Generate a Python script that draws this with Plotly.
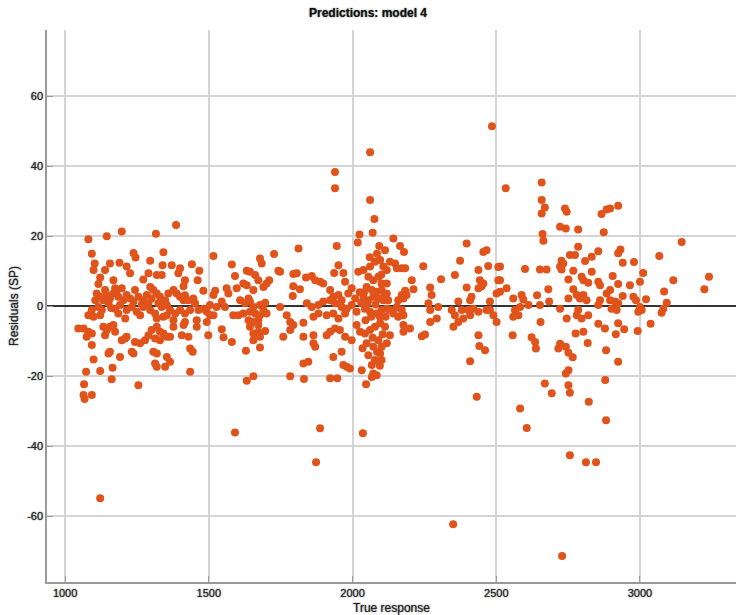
import plotly.graph_objects as go

# Residuals of model 4 against the true response, grouped by response band
band_1000 = [
    (1081, 19.1), (1145, 20.0), (1197, 21.3), (1316, 20.7), (1093, 15.0), (1238, 15.2), (1245, 13.9),
    (1342, 15.4), (1296, 13.0), (1103, 12.2), (1099, 10.3), (1156, 12.2), (1189, 12.4), (1214, 11.3),
    (1226, 9.4), (1139, 10.3), (1122, 8.2), (1168, 7.4), (1290, 9.4), (1272, 7.6), (1319, 8.9),
    (1336, 8.9), (1339, 11.7), (1116, 6.3), (1174, 5.1), (1197, 5.1), (1296, 5.5),
    (1110, 3.6), (1122, 2.7), (1133, 1.7), (1145, 3.2), (1156, 2.2), (1168, 3.6), (1185, 2.7),
    (1203, 1.7), (1214, 3.2), (1226, 2.2), (1238, 1.3), (1255, 2.7), (1272, 1.7), (1284, 3.2),
    (1301, 2.2), (1319, 3.6), (1330, 2.7), (1348, 1.7), (1359, 3.6),
    (1105, 1.7), (1116, -0.2), (1128, -1.1), (1151, 0.8), (1174, -0.7), (1191, 0.3), (1214, -1.1),
    (1232, -0.2), (1249, -1.6), (1272, -0.2), (1296, -1.1), (1313, -2.1), (1336, -0.2),
    (1093, -1.1), (1081, -2.6), (1099, -3.0), (1122, -2.6), (1185, -2.1), (1209, -3.5), (1261, -2.6),
    (1319, -3.5), (1342, -3.0), (1354, -2.6),
    (1139, 4.6), (1180, 4.6), (1243, 4.6), (1307, 4.6), (1325, 0.8), (1354, 0.3), (1160, -0.5),
    (1267, 0.5), (1290, 0.8),
    (1046, -6.4), (1064, -6.4), (1081, -7.3), (1093, -7.8), (1075, -8.7),
    (1133, -5.9), (1145, -6.8), (1156, -5.9), (1168, -5.4), (1174, -7.3), (1139, -8.3), (1093, -11.1),
    (1197, -9.7), (1209, -9.2), (1214, -8.7), (1243, -10.2), (1261, -10.6), (1278, -9.7), (1290, -8.3),
    (1301, -6.8), (1319, -5.9), (1330, -7.3), (1342, -7.8), (1354, -8.7), (1313, -9.2), (1330, -9.7),
    (1156, -13.0), (1151, -13.5), (1191, -14.5), (1232, -13.0), (1238, -13.5), (1307, -13.0),
    (1319, -13.5), (1099, -15.2), (1073, -18.7), (1122, -18.5), (1165, -17.6), (1162, -20.9),
    (1066, -22.3), (1255, -22.6), (1064, -25.4), (1093, -25.4), (1313, -16.4), (1319, -17.3),
    (1348, -17.3), (1354, -14.5), (1068, -26.5), (1122, -54.9),
]

band_1400 = [
    (1386, 23.2), (1516, 14.3), (1371, 11.7), (1400, 10.8), (1394, 9.4), (1441, 12.0), (1467, 10.1),
    (1461, 7.4), (1417, 7.4), (1412, 5.7), (1580, 11.9), (1591, 8.6), (1678, 13.6), (1684, 12.2),
    (1727, 14.9), (1742, 10.1), (1632, 10.1), (1643, 9.8), (1661, 8.9), (1672, 7.4), (1620, 6.5),
    (1632, 6.0), (1710, 7.4), (1701, 6.5), (1690, 5.5), (1655, 4.6), (1597, 5.1), (1562, 5.1),
    (1568, 3.6), (1522, 4.4), (1516, 3.2), (1481, 4.4),
    (1377, 4.6), (1388, 3.6), (1400, 2.7), (1417, 3.1), (1412, 1.7), (1429, 1.7), (1446, 2.2),
    (1452, 0.8), (1545, 1.3), (1556, -0.2), (1527, -0.2), (1504, 0.3), (1609, 1.7), (1626, 0.8),
    (1643, 1.3), (1638, 2.2), (1655, -0.2), (1678, 0.3), (1696, 1.0),
    (1365, -1.1), (1383, -2.1), (1400, -1.1), (1417, -2.1), (1435, -1.1), (1464, -1.1), (1481, -0.7),
    (1493, -1.6), (1504, -2.6), (1516, -2.6), (1585, -2.6), (1603, -2.6), (1620, -2.1), (1643, -1.6),
    (1661, -2.1), (1678, -2.6), (1690, -1.1), (1701, -2.1),
    (1377, -4.0), (1417, -4.5), (1458, -4.0), (1493, -4.5), (1638, -4.0), (1655, -4.5), (1672, -4.0),
    (1377, -5.9), (1412, -5.4), (1458, -5.9), (1643, -5.9), (1672, -5.4), (1545, -6.6), (1696, -7.1),
    (1365, -8.7), (1406, -8.3), (1429, -8.7), (1498, -8.3), (1551, -8.9), (1655, -7.8), (1672, -7.3),
    (1678, -8.7), (1580, -10.2), (1655, -9.7), (1678, -11.8), (1629, -12.7), (1435, -12.1),
    (1444, -13.0), (1365, -15.9), (1435, -18.7), (1632, -21.3), (1655, -20.0), (1591, -36.1),
]

band_1750 = [
    (1939, 38.3), (1939, 33.7), (2061, 44.0), (2061, 30.3), (2076, 24.9), (2070, 21.0), (2024, 20.5),
    (2018, 18.2), (2093, 17.2), (2113, 16.0), (1945, 17.2), (1812, 16.5), (1748, 9.8), (1794, 9.2),
    (1806, 9.4), (1794, 5.7), (1817, 4.8), (1792, 2.9), (1838, 8.2), (1858, 8.6), (1870, 7.4),
    (1887, 7.0), (1898, 6.5), (1922, 4.6), (1933, 2.7), (1951, 3.2), (1962, 1.7), (1951, 11.7),
    (1936, 9.5), (1968, 9.5), (1974, 7.0), (1997, 5.1), (1985, 3.6), (2009, 2.2),
    (2020, 9.8), (2038, 10.3), (2061, 11.3), (2078, 12.7), (2096, 13.2), (2107, 11.3), (2119, 10.3),
    (2055, 8.4), (2072, 7.4), (2090, 8.4), (2101, 6.5), (2119, 6.5), (2049, 5.5), (2067, 4.6),
    (2084, 4.1), (2101, 4.6), (2119, 3.6), (2038, 2.7), (2055, 1.7), (2072, 2.7), (2090, 2.2),
    (2107, 1.7), (2124, 1.7),
    (1841, 0.8), (1858, -0.2), (1881, 0.3), (1898, 1.3), (1922, 1.7), (1939, 0.8), (1962, -0.2),
    (1980, -0.7), (1997, 0.3),
    (1748, -0.2), (1771, -2.6), (1783, -4.5), (1794, -5.4), (1829, -4.7), (1864, -3.0), (1881, -2.1),
    (1910, -2.6), (1933, -2.1), (1951, -3.5), (1974, -2.1), (2014, -1.6), (2043, -0.7), (2061, -1.6),
    (2084, -2.1), (2101, -1.1), (2119, -0.7),
    (1759, -8.7), (1783, -6.8), (1829, -8.7), (1864, -8.3), (1864, -10.6), (1870, -11.6), (1910, -8.3),
    (1922, -7.3), (1939, -6.4), (1956, -6.8), (1974, -8.7), (1997, -9.7), (2014, -5.4), (2026, -7.3),
    (2043, -7.8), (2061, -6.8), (2078, -5.9), (2096, -4.9), (2113, -5.9), (2049, -10.6), (2072, -11.6),
    (2090, -9.7), (2101, -11.6), (2119, -10.6),
    (1933, -14.5), (1962, -13.0), (1968, -16.8), (1980, -17.3), (1991, -17.8), (2032, -18.3),
    (2067, -16.8), (2078, -15.4), (2072, -19.2), (2084, -19.7), (2096, -13.5), (2101, -15.4),
    (1829, -16.4), (1846, -15.9), (1783, -20.0), (1831, -20.8), (1922, -20.6), (1947, -20.6),
    (2047, -22.3), (2067, -20.2), (1887, -34.9), (1873, -44.6), (2036, -36.3),
    (2040, 4.0), (2050, 0.5), (2065, -3.0), (2080, 0.5), (2095, -3.0), (2110, 3.0), (2045, -4.0),
    (2070, -9.0), (2085, -13.0), (2105, -8.0), (2030, 1.0), (2025, 4.0), (2060, 14.0), (2085, 15.0),
    (2100, 9.0), (2115, -3.0), (2035, -12.0), (2055, -14.0), (2095, -17.0),
]

band_2130 = [
    (2142, 19.3), (2165, 17.2), (2179, 15.5), (2130, 12.7), (2148, 12.2), (2154, 10.8), (2171, 10.8),
    (2183, 10.8), (2246, 11.4), (2206, 7.4), (2212, 4.8), (2183, 4.4), (2171, 3.2), (2159, 1.7),
    (2177, 2.2), (2188, 3.2), (2154, -0.2), (2171, -1.1), (2142, -2.1), (2159, -3.0), (2177, -2.6),
    (2130, -1.1), (2177, -5.4), (2177, -7.3), (2200, -6.4), (2130, -8.3), (2241, -8.6), (2252, -8.1),
    (2270, 5.3), (2275, 3.2), (2264, 0.8), (2270, -1.1), (2270, -4.5), (2298, -0.2), (2293, -3.5),
    (2308, 7.7), (2397, 17.9), (2374, 13.0), (2356, 8.9), (2397, 5.3), (2414, 2.7), (2409, 1.7),
    (2368, 1.3), (2345, -1.1), (2356, -2.6), (2351, -5.9), (2368, -4.5), (2385, -3.5), (2380, -1.1),
    (2403, -1.1), (2420, -0.7), (2438, -1.6), (2409, -2.6), (2455, 15.5), (2466, 16.0), (2472, 11.5),
    (2438, 10.3), (2443, 7.4), (2455, 6.5), (2438, 5.1), (2449, 5.7), (2478, 1.3), (2478, -1.1),
    (2490, -2.6), (2501, -4.5), (2466, -1.1), (2507, 11.2), (2507, 7.4), (2501, 3.6), (2438, -8.3),
    (2441, -11.4), (2461, -12.6), (2409, -15.7), (2432, -25.9), (2485, 51.4), (2350, -62.3),
]

band_2510 = [
    (2533, 33.7), (2658, 35.3), (2658, 30.3), (2669, 28.2), (2658, 26.5), (2739, 27.9), (2745, 27.0),
    (2785, 21.9), (2722, 22.7), (2742, 22.2), (2866, 26.3), (2884, 27.6), (2874, 21.1), (2661, 20.6),
    (2664, 18.7), (2785, 17.0), (2513, 11.3), (2600, 10.6), (2652, 10.5), (2675, 10.5), (2727, 13.0),
    (2722, 11.3), (2733, 12.2), (2727, 10.5), (2756, 14.6), (2774, 14.6), (2809, 12.9), (2832, 14.1),
    (2855, 15.7), (2768, 10.1), (2751, 7.6), (2832, 9.8), (2797, 8.4), (2803, 7.4), (2820, 6.7),
    (2855, 7.0), (2861, 6.0), (2681, 4.8), (2642, 3.1), (2768, 4.8), (2780, 3.2), (2803, 3.2),
    (2814, 1.7), (2751, 2.2), (2791, 2.2), (2861, 1.7), (2884, 3.6), (2513, 7.4), (2513, 4.1),
    (2536, 5.1), (2559, 2.2), (2588, 3.2), (2594, 1.9), (2612, 0.3), (2583, -0.2), (2565, -1.1),
    (2577, -2.6), (2559, -3.0), (2652, 0.3), (2684, 1.3), (2722, -0.7), (2785, -1.1), (2780, -2.6),
    (2797, -3.5), (2820, -2.6), (2745, -3.5), (2855, 0.3), (2855, -5.0), (2878, -6.4), (2654, -4.5),
    (2557, -8.3), (2623, -8.9), (2635, -10.2), (2638, -12.1), (2776, -7.8), (2803, -7.3),
    (2818, -10.5), (2722, -10.7), (2716, -12.1), (2742, -11.6), (2751, -13.3), (2766, -14.6),
    (2882, -12.6), (2751, -18.3), (2742, -19.2), (2879, -21.1), (2669, -22.1), (2693, -24.9),
    (2751, -22.6), (2756, -24.7), (2583, -29.2), (2606, -34.8), (2822, -27.3), (2882, -32.6),
    (2756, -42.6), (2812, -44.6), (2847, -44.6), (2729, -71.4),
]

band_2900 = [
    (2924, 28.7), (2896, 27.9), (3145, 18.3), (2932, 16.2), (2924, 15.1), (3067, 14.3), (2940, 12.4),
    (2979, 12.6), (3011, 9.5), (2905, 8.6), (3116, 7.4), (3000, 7.0), (2924, 6.3), (2965, 6.0),
    (3240, 8.4), (3224, 4.8), (3084, 4.2), (2896, 4.6), (2940, 2.9), (2977, 2.7), (2986, 1.7),
    (3021, 2.0), (2896, 1.7), (2913, 1.3), (2924, 0.8), (2901, -0.7), (2919, -1.1), (3000, -0.2),
    (3006, -1.1), (2994, -1.6), (3093, 1.0), (3081, -0.7), (3075, -1.9), (3037, -5.0), (2924, -4.9),
    (2945, -6.6), (2916, -8.0), (2992, -7.1), (2924, -15.9),
]

x_ticks = [1000, 1500, 2000, 2500, 3000]
y_ticks = [-60, -40, -20, 0, 20, 40, 60]

points = band_1000 + band_1400 + band_1750 + band_2130 + band_2510 + band_2900
true_response = [p[0] for p in points]
residual_sp = [p[1] for p in points]

# soft grey outline around every piece of text
halo = "0px 0px 1px #777, 0px 0px 2px #999"
family = "Liberation Sans, Arial, sans-serif"

fig = go.Figure(
    go.Scatter(
        x=true_response,
        y=residual_sp,
        mode="markers",
        marker=dict(color="#e0531b", size=8, line=dict(width=0)),
        hoverinfo="x+y",
    )
)

fig.update_layout(
    width=736,
    height=615,
    margin=dict(l=47, r=0, t=30, b=33),
    paper_bgcolor="white",
    plot_bgcolor="white",
    showlegend=False,
    font=dict(family=family, size=11, color="#222", shadow=halo),
    title=dict(
        text="<b>Predictions: model 4</b>",
        x=0.5,
        xanchor="center",
        y=0.98,
        yanchor="middle",
        font=dict(family=family, size=12, color="#111", shadow=halo),
    ),
)

fig.update_xaxes(
    range=[937, 3334],
    tickvals=x_ticks,
    ticktext=[str(v) for v in x_ticks],
    showgrid=True,
    gridcolor="#d4d4d4",
    gridwidth=1.5,
    zeroline=False,
    showline=True,
    linecolor="#9a9a9a",
    linewidth=1.5,
    ticks="inside",
    ticklen=6,
    tickcolor="#9a9a9a",
    title=dict(text="True response", standoff=6, font=dict(size=12)),
)

fig.update_yaxes(
    range=[-78.8, 78.9],
    tickvals=y_ticks,
    ticktext=[str(v) for v in y_ticks],
    showgrid=True,
    gridcolor="#d4d4d4",
    gridwidth=1.5,
    zeroline=True,
    zerolinecolor="#333333",
    zerolinewidth=2,
    showline=True,
    linecolor="#9a9a9a",
    linewidth=1.5,
    ticks="inside",
    ticklen=6,
    tickcolor="#9a9a9a",
    title=dict(text="Residuals (SP)", standoff=6, font=dict(size=12)),
)

fig.write_html("out.html")
